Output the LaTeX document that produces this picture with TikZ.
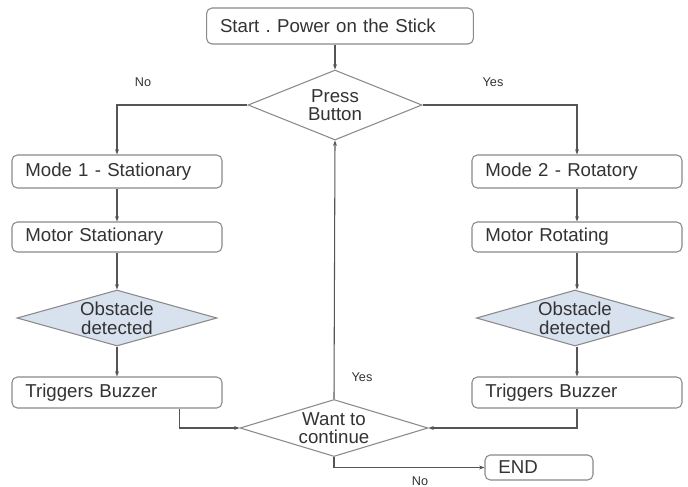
\documentclass[tikz,border=0pt]{standalone}
\usepackage{fontspec}
\setmainfont{Liberation Sans}
\usetikzlibrary{shapes.geometric,arrows.meta}
\definecolor{linegray}{HTML}{555555}
\definecolor{boxgray}{HTML}{8A8A8A}
\definecolor{txtgray}{HTML}{333333}
\definecolor{decblue}{HTML}{D8E1EE}
\frenchspacing

\begin{document}
\begin{tikzpicture}[x=0.75pt,y=-0.75pt,
   proc/.style={rectangle, rounded corners=4pt, draw=boxgray, line width=0.8pt, fill=white,
      text=txtgray, font=\fontsize{14}{16}\selectfont, inner xsep=10pt, inner ysep=0pt,
      align=left, text width=137.5pt, minimum height=24pt},
   dec/.style={diamond, draw=boxgray, line width=0.8pt, inner sep=0pt},
   dtext/.style={text=txtgray, font=\fontsize{14}{14}\selectfont, align=center},
   lbl/.style={text=txtgray, font=\fontsize{9.5}{11}\selectfont},
   flow/.style={draw=linegray, line width=0.8pt, -{Stealth[length=4pt,width=3pt]}}]

   \fill[white] (0,0) rectangle (688,486);
   \useasboundingbox (0,0) rectangle (688,486);

   % top
   \node[proc, text width=180pt, minimum height=27pt] (start) at (340,26) {Start . Power on the Stick};
   \node[dec, minimum width=130.5pt, minimum height=52.5pt,
      label={[dtext,name=pressT]center:{Press\\Button}}] (press) at (335,105) {};

   % left branch
   \node[proc, minimum height=24.75pt] (mode1) at (117,171.5) {Mode 1 - Stationary};
   \node[proc, minimum height=22.5pt] (motor1) at (117,237) {Motor Stationary};
   \node[dec, fill=decblue, minimum width=150pt, minimum height=42pt,
      label={[dtext,name=obst1T]center:{Obstacle\\detected}}] (obst1) at (117,318) {};
   \node[proc, minimum height=23.25pt] (trig1) at (117,392.5) {Triggers Buzzer};

   % right branch
   \node[proc, minimum height=24.75pt] (mode2) at (577,171.5) {Mode 2 - Rotatory};
   \node[proc, minimum height=22.5pt] (motor2) at (577,237) {Motor Rotating};
   \node[dec, fill=decblue, minimum width=148pt, minimum height=42pt,
      label={[dtext,name=obst2T]center:{Obstacle\\detected}}] (obst2) at (575,318) {};
   \node[proc, minimum height=23.25pt] (trig2) at (577,392.5) {Triggers Buzzer};

   % bottom
   \node[dec, minimum width=141pt, minimum height=42.75pt,
      label={[dtext,name=wantT]center:{Want to\\continue}}] (want) at (334,428) {};
   \node[proc, text width=61pt, minimum height=18.75pt] (end) at (539,467.5) {END};

   \node[lbl] (noL) at (143,82) {No};
   \node[lbl] (yesR) at (493,82) {Yes};
   \node[lbl] (yesB) at (362,377) {Yes};
   \node[lbl] (noB) at (420,481) {No};

   \draw[flow] (press.north |- start.south) -- (press.north);
   \draw[flow] (press.west) -| (mode1.north);
   \draw[flow] (press.east) -| (mode2.north);
   \draw[flow] (mode1) -- (motor1);
   \draw[flow] (motor1) -- (obst1);
   \draw[flow] (obst1) -- (trig1);
   \draw[flow] (mode2) -- (motor2);
   \draw[flow] (motor2) -- (obst2.north -| motor2.south);
   \draw[flow] (obst2.south -| trig2.north) -- (trig2);
   \draw[flow] ([xshift=47pt]trig1.south) |- (want.west);
   \draw[flow] (trig2.south) |- (want.east);
   \draw[flow] (want.north) -- (press.south);
   \draw[flow] (want.south) |- (end.west);
\end{tikzpicture}
\end{document}
